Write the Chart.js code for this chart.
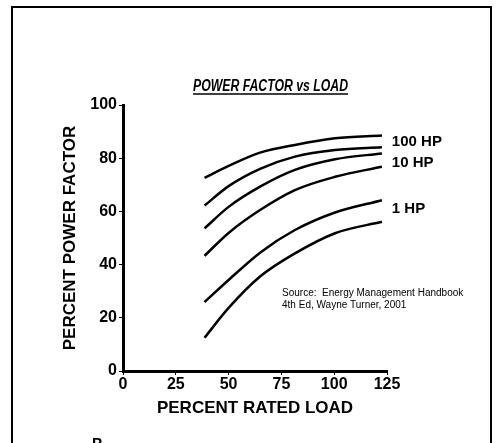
<!DOCTYPE html>
<html>
<head>
<meta charset="utf-8">
<script src="https://cdn.jsdelivr.net/npm/chart.js@4"></script>
<style>
  html, body { margin: 0; padding: 0; background: #fff; }
  #wrap { width: 496px; height: 443px; position: relative; }
</style>
</head>
<body>
<div id="wrap"><canvas id="chart" width="496" height="443"></canvas></div>
<script>
// percent rated load
const loads = [38.6, 50, 64.9, 81.4, 100.4, 122.6]
// percent power factor, one curve each, top to bottom
const curveA = [72.6, 77.1, 82.1, 85.0, 87.5, 88.5]
const curveB = [62.2, 69.5, 76.0, 80.6, 83.1, 84.1]
const curveC = [53.6, 61.7, 69.3, 75.6, 79.6, 81.8]
const curveD = [43.3, 51.9, 60.5, 68.0, 73.0, 76.8]
const curveE = [25.9, 34.2, 44.5, 53.0, 59.6, 64.2]
const curveF = [12.5, 23.7, 35.5, 44.2, 51.8, 56.1]
const xTicks = [0, 25, 50, 75, 100, 125]
const yTicks = [0, 20, 40, 60, 80, 100]
// curve names written next to the right end of the lines
const hpLabels = ['100 HP', '10 HP', '1 HP']
const hpLabelAt = [86.1, 78.2, 60.9]
const sourceLines = ['Source:  Energy Management Handbook', '4th Ed, Wayne Turner, 2001']

const FONT = "'Liberation Sans', Arial, sans-serif"
const curves = [curveA, curveB, curveC, curveD, curveE, curveF]

const decor = {
  id: 'decor',
  afterDraw(chart) {
    const { ctx } = chart
    const x = chart.scales.x
    const y = chart.scales.y
    ctx.save()
    // page frame
    ctx.strokeStyle = '#000'
    ctx.lineWidth = 2
    ctx.beginPath()
    ctx.moveTo(12, 443)
    ctx.lineTo(12, 7)
    ctx.lineTo(491, 7)
    ctx.lineTo(491, 443)
    ctx.stroke()

    // heading, underlined
    ctx.fillStyle = '#000'
    ctx.font = `italic bold 16px ${FONT}`
    ctx.textBaseline = 'alphabetic'
    const title = 'POWER FACTOR vs LOAD'
    const w = ctx.measureText(title).width
    const sx = 155 / w
    ctx.save()
    ctx.translate(193, 91)
    ctx.scale(sx, 1)
    ctx.fillText(title, 0, 0)
    ctx.restore()
    ctx.lineWidth = 1.5
    ctx.beginPath()
    ctx.moveTo(193, 94)
    ctx.lineTo(348, 94)
    ctx.stroke()

    // curve labels
    ctx.font = `bold 15px ${FONT}`
    ctx.textBaseline = 'middle'
    hpLabels.forEach((t, i) => {
      ctx.fillText(t, x.getPixelForValue(127.3), y.getPixelForValue(hpLabelAt[i]))
    })

    // source note
    ctx.font = `10px ${FONT}`
    sourceLines.forEach((t, i) => {
      ctx.fillText(t, x.getPixelForValue(75.3), y.getPixelForValue(29.3 - i * 4.5))
    })

    // start of the next page section, cut off at the bottom
    ctx.font = `bold 15px ${FONT}`
    ctx.textBaseline = 'alphabetic'
    ctx.fillText('P', 92, 448)
    ctx.restore()
  },
}

const tickFont = { family: FONT, size: 16, weight: 'bold' }
const titleFont = { family: FONT, size: 17, weight: 'bold' }

new Chart(document.getElementById('chart'), {
  type: 'line',
  data: {
    datasets: curves.map((c, i) => ({
      label: `curve ${i + 1}`,
      data: loads.map((l, j) => ({ x: l, y: c[j] })),
      borderColor: '#000',
      borderWidth: 2.5,
      pointRadius: 0,
      fill: false,
      cubicInterpolationMode: 'monotone',
    })),
  },
  options: {
    responsive: false,
    animation: false,
    layout: { padding: { top: 105, right: 109, left: 0, bottom: 0 } },
    plugins: { legend: { display: false }, tooltip: { enabled: false } },
    scales: {
      x: {
        type: 'linear',
        min: 0,
        max: 125,
        afterBuildTicks: (s) => { s.ticks = xTicks.map((v) => ({ value: v })) },
        afterFit: (s) => { s.height = 72 },
        ticks: { color: '#000', font: tickFont, padding: 0, maxRotation: 0 },
        grid: { drawOnChartArea: false, color: '#000', tickLength: 4, lineWidth: 1 },
        border: { color: '#000', width: 3 },
        title: { display: true, text: 'PERCENT RATED LOAD', color: '#000', font: titleFont, padding: { bottom: 24 } },
      },
      y: {
        min: 0,
        max: 100,
        afterBuildTicks: (s) => { s.ticks = yTicks.map((v) => ({ value: v })) },
        afterFit: (s) => { s.width = 123 },
        ticks: { color: '#000', font: tickFont, padding: 2 },
        grid: { drawOnChartArea: false, color: '#000', tickLength: 4, lineWidth: 1 },
        border: { color: '#000', width: 3 },
        title: { display: true, text: 'PERCENT POWER FACTOR', color: '#000', font: titleFont, padding: { top: 60 } },
      },
    },
  },
  plugins: [decor],
})
</script>
</body>
</html>
